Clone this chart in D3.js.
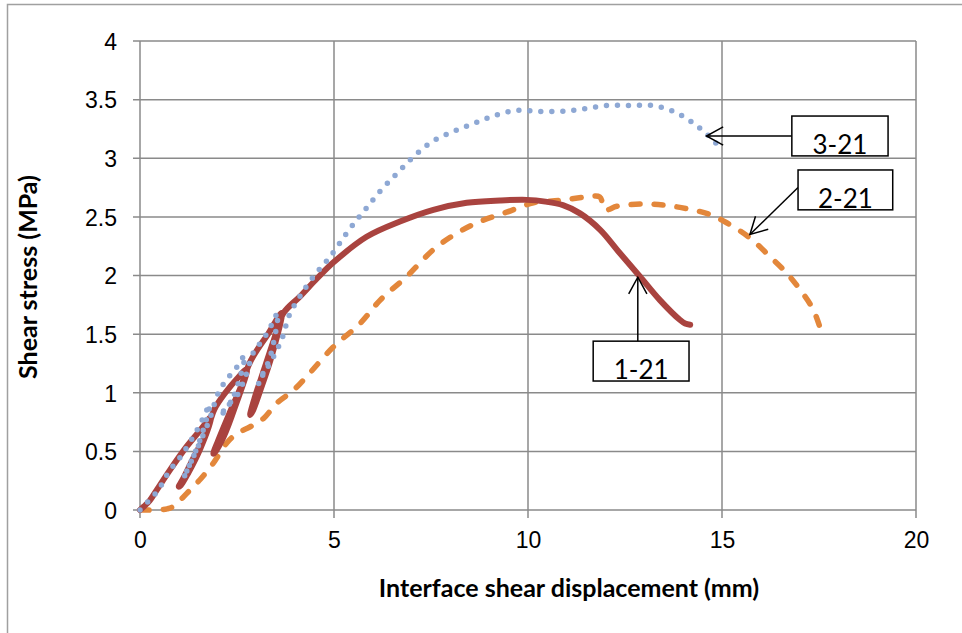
<!DOCTYPE html>
<html>
<head>
<meta charset="utf-8">
<script src="https://cdnjs.cloudflare.com/ajax/libs/d3/7.8.5/d3.min.js"></script>
<style>
body { margin: 0; background: #fff; }
svg { display: block; font-family: Lato, "Open Sans", sans-serif; }
.grid line { stroke: #8a8a8a; stroke-width: 1.5; }
.tick text { font-size: 23px; fill: #000; }
.title { font-size: 25px; font-weight: bold; fill: #000; }
.note text { font-size: 26px; fill: #000; }
</style>
</head>
<body>
<script>
var w = 962;
var h = 633;

// tick labels
var xTicks = [0, 5, 10, 15, 20];
var yTicks = [0, 0.5, 1, 1.5, 2, 2.5, 3, 3.5, 4];

// 1-21 : displacement (mm) / shear stress (MPa), with the three unload-reload loops
var disp1 = [0, 0.1, 0.25, 0.43, 0.77, 1.2, 1.55, 1.85, 1.55, 1.25, 1.05, 1.0, 1.1, 1.4, 1.7, 1.92, 2.2, 2.5, 2.75,
	2.45, 2.15, 1.95, 1.89, 2.0, 2.3, 2.6, 2.82, 3.05, 3.3, 3.65, 3.4, 3.1, 2.9, 2.84, 2.95, 3.2, 3.45, 3.7,
	4.12, 4.55, 4.98, 5.84, 6.7, 7.56, 8.42, 9.28, 9.97, 10.45, 10.9, 11.34, 11.86, 12.37, 12.89, 13.4, 13.92, 14.05, 14.18];
var stress1 = [0, 0.03, 0.08, 0.17, 0.34, 0.54, 0.68, 0.8, 0.52, 0.32, 0.21, 0.2, 0.26, 0.46, 0.65, 0.86, 1.0, 1.12, 1.2,
	0.88, 0.62, 0.5, 0.48, 0.58, 0.82, 1.05, 1.25, 1.38, 1.5, 1.68, 1.32, 1.02, 0.84, 0.81, 0.95, 1.2, 1.45, 1.68,
	1.82, 1.97, 2.11, 2.33, 2.46, 2.56, 2.62, 2.64, 2.645, 2.63, 2.6, 2.53, 2.39, 2.19, 1.99, 1.79, 1.62, 1.59, 1.58];

// 2-21
var disp2 = [0, 0.43, 0.7, 0.86, 1.2, 1.55, 1.89, 2.23, 2.49, 2.84, 3.18, 3.52, 3.95, 4.38, 4.98, 5.67, 6.19, 6.87,
	7.56, 8.16, 8.76, 9.45, 10.14, 10.82, 11.51, 11.85, 11.98, 12.29, 12.89, 13.49, 14.09, 14.69, 15.12, 15.72,
	16.24, 16.67, 17.01, 17.35, 17.57];
var stress2 = [0, 0, 0.01, 0.03, 0.14, 0.26, 0.4, 0.57, 0.65, 0.71, 0.78, 0.91, 1.02, 1.17, 1.39, 1.59, 1.79, 1.99,
	2.22, 2.36, 2.46, 2.54, 2.62, 2.64, 2.67, 2.67, 2.56, 2.59, 2.61, 2.6, 2.57, 2.52, 2.45, 2.32,
	2.16, 2.02, 1.88, 1.71, 1.51];

// 3-21
var disp3 = [0, 0.26, 0.47, 0.77, 0.99, 1.16, 1.5, 1.8, 1.55, 1.3, 1.12, 1.37, 1.55, 1.8, 2.02, 2.23, 2.5, 2.7,
	2.45, 2.2, 2.06, 2.28, 2.49, 2.71, 2.92, 3.09, 3.3, 3.55, 3.35, 3.15, 3.05, 3.18, 3.35, 3.52, 3.65, 3.74, 3.87,
	4.12, 4.47, 4.9, 5.41, 5.8, 6.19, 6.62, 7.04, 7.52, 8.08, 8.63, 9.19, 9.75, 10.27, 10.87, 11.43, 12.03, 12.61,
	13.19, 13.75, 14.26, 14.69, 14.95];
var stress3 = [0, 0.09, 0.17, 0.34, 0.43, 0.51, 0.7, 0.9, 0.6, 0.4, 0.27, 0.45, 0.58, 0.78, 1.0, 1.11, 1.22, 1.32,
	1.0, 0.85, 0.8, 0.9, 0.97, 1.13, 1.34, 1.42, 1.52, 1.68, 1.3, 1.15, 1.07, 1.16, 1.25, 1.36, 1.45, 1.55, 1.68,
	1.82, 1.99, 2.16, 2.4, 2.56, 2.72, 2.87, 3.01, 3.14, 3.23, 3.3, 3.37, 3.41, 3.4, 3.4, 3.42, 3.45, 3.45,
	3.45, 3.4, 3.3, 3.18, 3.09];

// callouts: label, box corners (data units), arrow start and tip (data units)
var noteNames = ["3-21", "2-21", "1-21"];
var noteBoxes = [[16.8, 3.36, 19.28, 3.02], [16.96, 2.9, 19.4, 2.56], [11.68, 1.44, 14.15, 1.1]];
var noteArrows = [[16.8, 3.19, 14.6, 3.19], [16.96, 2.75, 15.72, 2.35], [12.83, 1.44, 12.83, 1.985]];

var svg = d3.select("body")
	.append("svg")
	.attr("width", w)
	.attr("height", h);

var x = d3.scaleLinear().domain([0, 20]).range([140, 916]);
var y = d3.scaleLinear().domain([0, 4]).range([510, 41]);

// outer chart frame (only left and top edges fall inside the picture)
svg.append("path")
	.attr("d", "M7.5," + h + "V4.5H" + w)
	.attr("fill", "none")
	.attr("stroke", "#a0a0a0")
	.attr("stroke-width", 1.5);

// gridlines
svg.append("g").attr("class", "grid")
	.selectAll("line")
	.data(yTicks)
	.enter()
	.append("line")
	.attr("x1", x(0) - 7)
	.attr("x2", x(20))
	.attr("y1", function(d){ return y(d); })
	.attr("y2", function(d){ return y(d); });
svg.append("g").attr("class", "grid")
	.selectAll("line")
	.data(xTicks)
	.enter()
	.append("line")
	.attr("x1", function(d){ return x(d); })
	.attr("x2", function(d){ return x(d); })
	.attr("y1", y(4))
	.attr("y2", y(0) + 8);

// axes (labels only, lines drawn above)
var yAxis = svg.append("g")
	.attr("transform", "translate(" + (x(0) - 23) + ",0)")
	.call(d3.axisLeft(y).tickValues(yTicks).tickSize(0).tickFormat(d3.format("")));
yAxis.select(".domain").remove();
yAxis.selectAll("text").attr("dy", "0.36em").attr("x", 0);

var xAxis = svg.append("g")
	.attr("transform", "translate(0," + (y(0) + 22) + ")")
	.call(d3.axisBottom(x).tickValues(xTicks).tickSize(0).tickFormat(d3.format("")));
xAxis.select(".domain").remove();
xAxis.selectAll("text").attr("dy", "0.71em").attr("y", 0);

svg.append("text")
	.attr("class", "title")
	.attr("text-anchor", "middle")
	.attr("transform", "translate(28,277) rotate(-90)")
	.attr("dy", "0.35em")
	.text("Shear stress (MPa)");

svg.append("text")
	.attr("class", "title")
	.attr("text-anchor", "middle")
	.attr("x", 569)
	.attr("y", 597)
	.text("Interface shear displacement (mm)");

// series
var line = d3.line()
	.x(function(d){ return x(d[0]); })
	.y(function(d){ return y(d[1]); })
	.curve(d3.curveCatmullRom.alpha(0.5));

var series = [
	{ name: "1-21", pts: d3.zip(disp1, stress1), color: "#a9433f", width: 6, dash: null },
	{ name: "2-21", pts: d3.zip(disp2, stress2), color: "#e3873b", width: 5.5, dash: "9,14" },
	{ name: "3-21", pts: d3.zip(disp3, stress3), color: "#8ea8d4", width: 5.5, dash: "0,11" }
];

// draw order: orange under red under blue dots
svg.selectAll("path.series")
	.data([series[1], series[0], series[2]])
	.enter()
	.append("path")
	.attr("class", "series")
	.attr("d", function(d){ return line(d.pts); })
	.attr("fill", "none")
	.attr("stroke", function(d){ return d.color; })
	.attr("stroke-width", function(d){ return d.width; })
	.attr("stroke-dasharray", function(d){ return d.dash; })
	.attr("stroke-linecap", "round")
	.attr("stroke-linejoin", "round");

// callouts
var notes = svg.selectAll("g.note")
	.data(noteNames)
	.enter()
	.append("g")
	.attr("class", "note");

notes.append("line")
	.attr("x1", function(d, i){ return x(noteArrows[i][0]); })
	.attr("y1", function(d, i){ return y(noteArrows[i][1]); })
	.attr("x2", function(d, i){ return x(noteArrows[i][2]); })
	.attr("y2", function(d, i){ return y(noteArrows[i][3]); })
	.attr("stroke", "#000")
	.attr("stroke-width", 1.5);

notes.append("path")
	.attr("d", function(d, i){
		var a = noteArrows[i];
		var tx = x(a[2]), ty = y(a[3]);
		var ang = Math.atan2(y(a[1]) - ty, x(a[0]) - tx);
		var len = 19, spread = 0.5;
		return "M" + (tx + len * Math.cos(ang - spread)) + "," + (ty + len * Math.sin(ang - spread)) +
			"L" + tx + "," + ty +
			"L" + (tx + len * Math.cos(ang + spread)) + "," + (ty + len * Math.sin(ang + spread));
	})
	.attr("fill", "none")
	.attr("stroke", "#000")
	.attr("stroke-width", 1.5);

notes.append("rect")
	.attr("x", function(d, i){ return x(noteBoxes[i][0]); })
	.attr("y", function(d, i){ return y(noteBoxes[i][1]); })
	.attr("width", function(d, i){ return x(noteBoxes[i][2]) - x(noteBoxes[i][0]); })
	.attr("height", function(d, i){ return y(noteBoxes[i][3]) - y(noteBoxes[i][1]); })
	.attr("fill", "#fff")
	.attr("stroke", "#000")
	.attr("stroke-width", 1.5);

notes.append("text")
	.attr("text-anchor", "middle")
	.attr("x", function(d, i){ return (x(noteBoxes[i][0]) + x(noteBoxes[i][2])) / 2; })
	.attr("y", function(d, i){ return y(noteBoxes[i][3]) - 2; })
	.text(function(d){ return d; });
</script>
</body>
</html>
